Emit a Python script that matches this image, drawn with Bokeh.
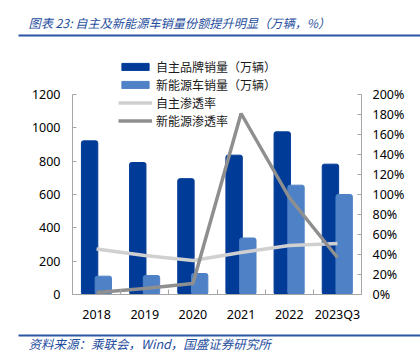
from bokeh.plotting import figure
from bokeh.models import (Range1d, LinearAxis, FixedTicker, Legend, LegendItem,
                          Label, BoxAnnotation, ColumnDataSource)
from bokeh.embed import file_html
from bokeh.resources import INLINE

years = ["2018", "2019", "2020", "2021", "2022", "2023Q3"]
own_brand_sales = [922, 792, 695, 836, 976, 782]
nev_sales = [110, 114, 126, 339, 656, 600]
own_share = [45.5, 39, 34, 42, 49, 51]
nev_share = [2, 6, 11, 181, 97, 37]
left_ticks = [0, 200, 400, 600, 800, 1000, 1200]
right_ticks = [0, 20, 40, 60, 80, 100, 120, 140, 160, 180, 200]

title_text = "图表 23:  自主及新能源车销量份额提升明显（万辆，%）"
source_text = "资料来源：乘联会，Wind，国盛证券研究所"

DARK = "#003C97"
LIGHT = "#4F81C6"
LGRAY = "#D0D0D0"
DGRAY = "#8F8F8F"
BLUE_TXT = "#1F4E9E"
RULE = "#2B55A5"
AXIS = "#A6A6A6"
TICK_FONT = "Noto Sans"
CJK = "Noto Sans CJK SC"

W, H = 420, 353
# plot area (pixels from top-left) in the reference
PL, PR, PT, PB = 72, 361, 94, 294
n = len(years)
ppu_x = (PR - PL) / n            # pixels per category
ppu_y = (PB - PT) / 1200         # pixels per left unit
ppu_r = (PB - PT) / 200          # pixels per right unit

x_start = -0.5 - PL / ppu_x
x_end = n - 0.5 + (W - PR) / ppu_x
y_start = -(H - PB) / ppu_y
y_end = 1200 + PT / ppu_y
r_start = -(H - PB) / ppu_r
r_end = 200 + PT / ppu_r

idx = list(range(n))
src = ColumnDataSource(dict(
    x=idx,
    xd=[i - 0.145 for i in idx],
    xl=[i + 0.14 for i in idx],
    own=own_brand_sales,
    nev=nev_sales,
    own_share=own_share,
    nev_share=nev_share,
))

p = figure(width=W, height=H, output_backend="svg", toolbar_location=None,
           x_range=Range1d(x_start, x_end), y_range=Range1d(y_start, y_end),
           min_border_left=0, min_border_right=0, min_border_top=0,
           min_border_bottom=0)
p.extra_y_ranges = {"pct": Range1d(r_start, r_end)}
p.outline_line_color = None
p.xgrid.visible = False
p.ygrid.visible = False
p.background_fill_color = "white"
p.border_fill_color = "white"

r1 = p.vbar(x="xd", top="own", width=0.34, source=src, fill_color=DARK,
            line_color=DARK, border_radius=2)
r2 = p.vbar(x="xl", top="nev", width=0.34, source=src, fill_color=LIGHT,
            line_color=LIGHT, border_radius=2)
r3 = p.line(x="x", y="own_share", source=src, y_range_name="pct",
            line_color=LGRAY, line_width=3.5)
r4 = p.line(x="x", y="nev_share", source=src, y_range_name="pct",
            line_color=DGRAY, line_width=3.5)

# x axis
xa = p.xaxis[0]
xa.fixed_location = 0
xa.bounds = (-0.5, n - 0.5)
xa.ticker = FixedTicker(ticks=idx, minor_ticks=[i + 0.5 for i in range(-1, n)])
xa.major_label_overrides = {i: y for i, y in enumerate(years)}
xa.major_tick_line_color = None
xa.minor_tick_in = 5
xa.minor_tick_out = 0
xa.minor_tick_line_color = AXIS
xa.axis_line_color = AXIS
xa.major_label_text_font = TICK_FONT
xa.major_label_text_font_size = "12.5px"
xa.major_label_text_color = "#000000"
xa.major_label_standoff = 5

# left axis
ya = p.yaxis[0]
ya.fixed_location = -0.5
ya.bounds = (0, 1200)
ya.ticker = FixedTicker(ticks=left_ticks)
ya.minor_tick_line_color = None
ya.major_tick_in = 4
ya.major_tick_out = 0
ya.major_tick_line_color = AXIS
ya.axis_line_color = AXIS
ya.major_label_text_font = TICK_FONT
ya.major_label_text_font_size = "12.5px"
ya.major_label_text_color = "#000000"
ya.major_label_standoff = 12

# right axis
ra = LinearAxis(y_range_name="pct", ticker=FixedTicker(ticks=right_ticks))
ra.fixed_location = n - 0.5
ra.bounds = (0, 200)
ra.major_label_overrides = {t: f"{t}%" for t in right_ticks}
ra.minor_tick_line_color = None
ra.major_tick_in = 4
ra.major_tick_out = 0
ra.major_tick_line_color = AXIS
ra.axis_line_color = AXIS
ra.major_label_text_font = TICK_FONT
ra.major_label_text_font_size = "12.5px"
ra.major_label_text_color = "#000000"
ra.major_label_standoff = 11
p.add_layout(ra, "right")

legend = Legend(items=[
    LegendItem(label="自主品牌销量（万辆）", renderers=[r1]),
    LegendItem(label="新能源车销量（万辆）", renderers=[r2]),
    LegendItem(label="自主渗透率", renderers=[r3]),
    LegendItem(label="新能源渗透率", renderers=[r4]),
], location=(118, H - 129), orientation="vertical")
legend.background_fill_alpha = 0
legend.border_line_color = None
legend.padding = 0
legend.margin = 0
legend.spacing = 1
legend.glyph_width = 34
legend.glyph_height = 9
legend.label_standoff = 4
legend.label_height = 14
legend.label_text_font = CJK
legend.label_text_font_size = "12px"
legend.label_text_color = "#1A1A1A"
p.add_layout(legend, "center")

# Title, source and their rules (screen units from the frame's bottom-left = canvas bottom-left)
p.add_layout(Label(x=28, y=H - 22, x_units="screen", y_units="screen",
                   text=title_text, text_font=CJK, text_font_size="12.2px",
                   text_font_style="italic", text_color=BLUE_TXT,
                   text_baseline="middle"))
p.add_layout(BoxAnnotation(left=18, right=W, top=H - 34, bottom=H - 36,
                           left_units="screen", right_units="screen",
                           top_units="screen", bottom_units="screen",
                           fill_color=RULE, fill_alpha=1, line_color=None))
p.add_layout(Label(x=28, y=H - 343, x_units="screen", y_units="screen",
                   text=source_text, text_font=CJK, text_font_size="12.5px",
                   text_font_style="italic", text_color=BLUE_TXT,
                   text_baseline="middle"))
p.add_layout(BoxAnnotation(left=18, right=W, top=H - 334, bottom=H - 336,
                           left_units="screen", right_units="screen",
                           top_units="screen", bottom_units="screen",
                           fill_color=RULE, fill_alpha=1, line_color=None))

open("out.html", "w").write(file_html(p, INLINE))
